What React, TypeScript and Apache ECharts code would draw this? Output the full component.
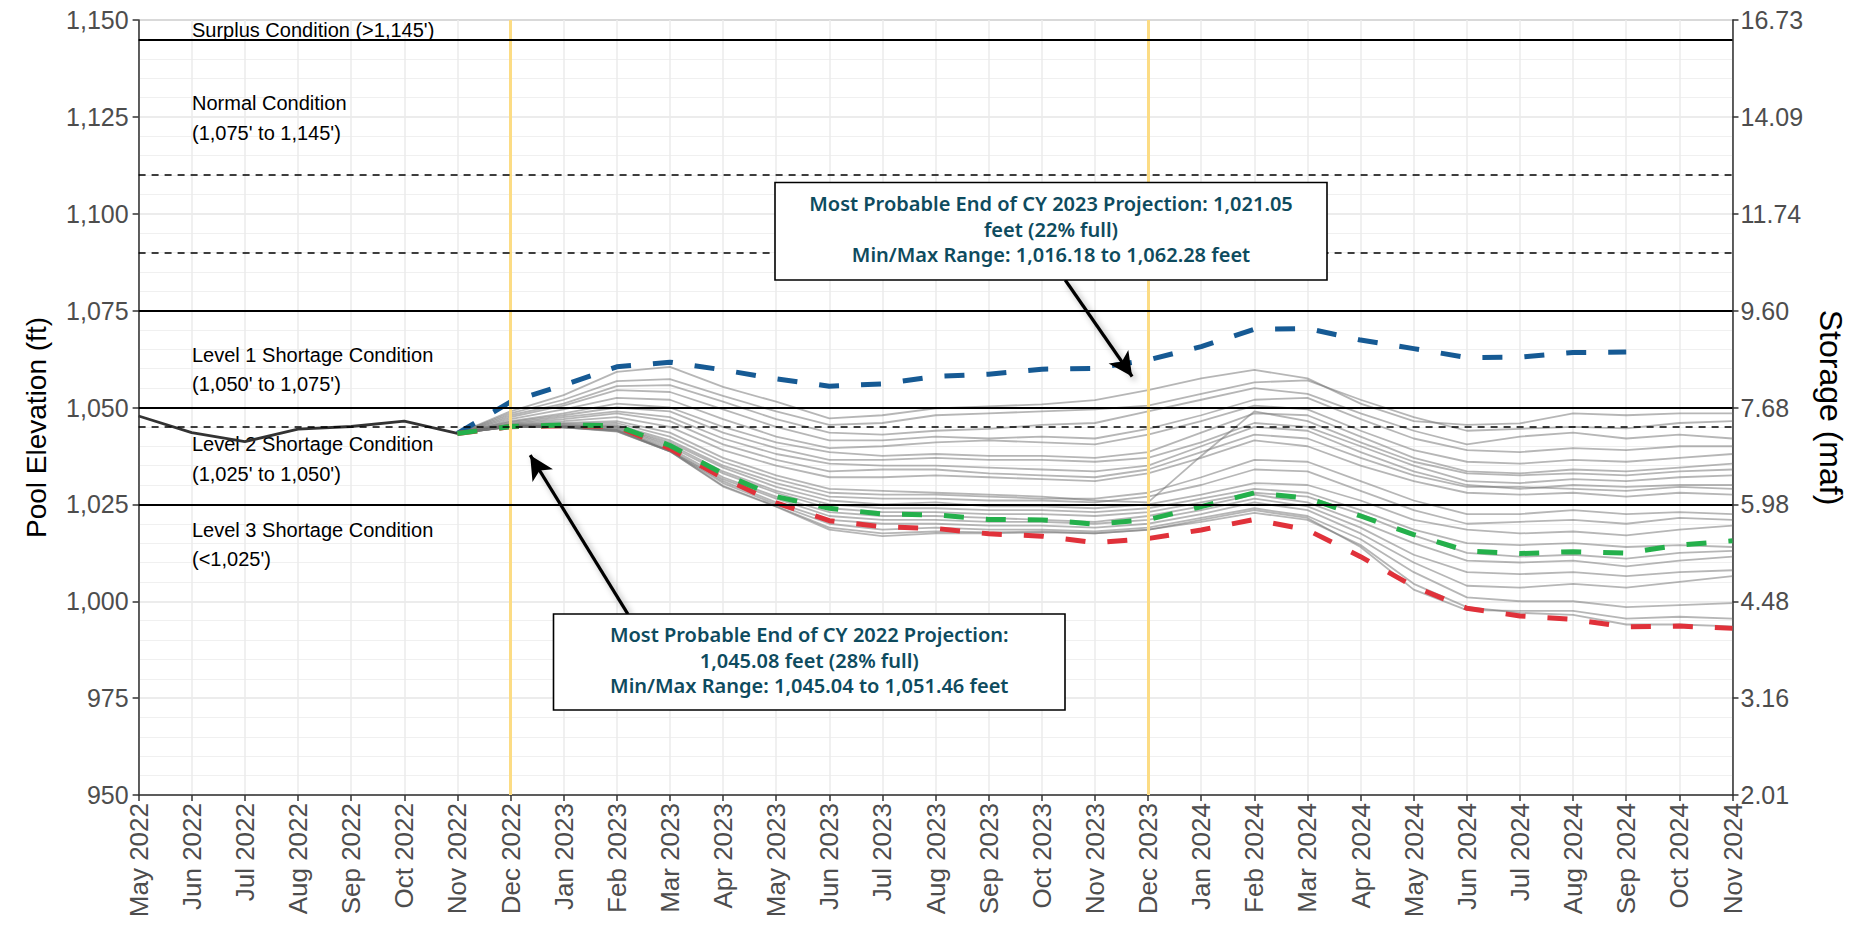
import React, { useEffect, useRef } from 'react';
import * as echarts from 'echarts';

const monthLabels = [
  'May 2022', 'Jun 2022', 'Jul 2022', 'Aug 2022', 'Sep 2022', 'Oct 2022', 'Nov 2022', 'Dec 2022',
  'Jan 2023', 'Feb 2023', 'Mar 2023', 'Apr 2023', 'May 2023', 'Jun 2023', 'Jul 2023', 'Aug 2023',
  'Sep 2023', 'Oct 2023', 'Nov 2023', 'Dec 2023', 'Jan 2024', 'Feb 2024', 'Mar 2024', 'Apr 2024',
  'May 2024', 'Jun 2024', 'Jul 2024', 'Aug 2024', 'Sep 2024', 'Oct 2024', 'Nov 2024',
];

// Historical elevations, May 2022 .. Nov 2022
const historical = [1047.8, 1043.5, 1041.2, 1044.4, 1045.1, 1046.5, 1043.3];

// Projections start at Nov 2022 (month index 6)
const projectionStart = 6;
const maxProbable = [1043.3, 1051.46, 1055.8, 1060.5, 1061.7, 1059.7, 1057.4, 1055.5, 1056.1, 1058.0,
  1058.6, 1059.9, 1060.1, 1062.28, 1065.7, 1070.2, 1070.4, 1067.4, 1065.2, 1062.9, 1063.0, 1064.2, 1064.3];
const mostProbable = [1043.3, 1045.08, 1045.5, 1045.3, 1040.2, 1032.9, 1027.0, 1024.0, 1022.5, 1022.3,
  1021.1, 1021.0, 1019.9, 1021.05, 1024.4, 1028.0, 1026.6, 1022.0, 1017.2, 1013.0, 1012.3, 1012.8, 1012.4, 1014.5, 1015.6];
const minProbable = [1043.3, 1045.04, 1045.3, 1045.1, 1039.4, 1031.8, 1025.4, 1020.8, 1019.2, 1018.8,
  1017.4, 1016.8, 1015.1, 1016.18, 1018.4, 1021.1, 1018.4, 1011.5, 1003.8, 998.2, 996.2, 995.3, 993.4, 993.6, 993.0];

// Ensemble traces, Nov 2022 .. Nov 2024
const traceA = [1043.3, 1049.0, 1053.2, 1059.2, 1060.5, 1055.3, 1051.5, 1047.2, 1048.0, 1049.8, 1050.3, 1050.8, 1051.9, 1054.5, 1057.5, 1059.7, 1057.5, 1051.0, 1046.5, 1045.5, 1045.9, 1048.5, 1048.0, 1048.5, 1048.5];
const traceB = [1043.3, 1048.5, 1052.0, 1056.8, 1057.3, 1053.0, 1049.0, 1045.5, 1046.0, 1048.0, 1048.5, 1049.0, 1049.5, 1050.5, 1053.5, 1056.5, 1057.0, 1052.0, 1047.5, 1044.0, 1044.5, 1045.0, 1044.6, 1046.0, 1046.5];
const traceC = [1043.3, 1048.0, 1051.0, 1055.5, 1055.8, 1051.5, 1047.0, 1043.5, 1043.0, 1044.0, 1044.5, 1045.5, 1046.0, 1049.0, 1052.0, 1055.0, 1053.5, 1048.5, 1044.0, 1040.5, 1042.5, 1043.5, 1042.0, 1043.0, 1042.0];
const traceD = [1043.3, 1047.5, 1050.5, 1054.5, 1054.0, 1049.5, 1045.0, 1041.5, 1041.5, 1042.5, 1042.0, 1042.5, 1042.0, 1044.5, 1048.0, 1052.0, 1052.5, 1047.0, 1042.0, 1039.0, 1038.5, 1039.5, 1039.0, 1040.0, 1040.0];
const traceE = [1043.3, 1047.0, 1049.5, 1052.5, 1052.0, 1047.0, 1042.5, 1039.5, 1040.0, 1041.0, 1041.5, 1041.0, 1040.5, 1043.0, 1046.5, 1050.5, 1049.5, 1044.0, 1039.0, 1036.0, 1035.5, 1036.5, 1036.0, 1037.0, 1038.0];
const traceF = [1043.3, 1046.5, 1048.5, 1051.0, 1050.0, 1045.0, 1041.0, 1038.5, 1037.5, 1038.0, 1037.5, 1037.5, 1037.0, 1038.5, 1043.5, 1048.5, 1048.0, 1042.5, 1037.0, 1033.5, 1033.0, 1034.0, 1033.5, 1034.5, 1035.5];
const traceG = [1043.3, 1046.3, 1048.0, 1050.0, 1049.0, 1043.5, 1039.5, 1036.5, 1036.5, 1037.0, 1036.5, 1036.5, 1036.0, 1037.0, 1041.0, 1046.0, 1045.0, 1040.0, 1035.0, 1031.0, 1030.5, 1031.5, 1031.0, 1032.0, 1032.5];
const traceH = [1043.3, 1046.0, 1047.5, 1049.0, 1047.5, 1042.0, 1038.0, 1035.5, 1035.0, 1035.0, 1034.5, 1034.0, 1033.5, 1035.0, 1040.0, 1045.0, 1044.0, 1038.5, 1033.5, 1030.0, 1029.0, 1030.0, 1029.5, 1030.0, 1030.0];
const traceI = [1043.3, 1045.8, 1047.0, 1048.5, 1046.5, 1040.5, 1036.5, 1033.5, 1034.0, 1034.0, 1033.0, 1032.5, 1032.0, 1034.0, 1038.5, 1043.0, 1042.0, 1037.0, 1032.5, 1029.5, 1029.5, 1029.0, 1028.5, 1029.5, 1029.0];
const traceJ = [1043.3, 1045.6, 1046.5, 1047.5, 1045.0, 1039.0, 1035.0, 1032.0, 1032.0, 1032.5, 1032.0, 1031.5, 1031.0, 1033.0, 1037.0, 1041.5, 1040.0, 1035.0, 1031.0, 1028.0, 1027.5, 1028.0, 1027.0, 1028.0, 1027.5];
const traceK = [1043.3, 1045.5, 1046.0, 1046.5, 1043.5, 1037.0, 1032.5, 1029.0, 1028.5, 1028.0, 1027.5, 1027.0, 1026.0, 1025.5, 1037.5, 1049.0, 1046.5, 1041.0, 1036.0, 1033.0, 1032.5, 1033.0, 1032.5, 1033.5, 1034.0];
const traceL = [1043.3, 1045.4, 1045.8, 1046.0, 1042.5, 1036.0, 1031.5, 1028.0, 1027.5, 1027.5, 1027.0, 1026.5, 1026.5, 1028.0, 1032.0, 1036.5, 1036.0, 1031.0, 1026.0, 1022.5, 1022.5, 1023.5, 1022.5, 1023.0, 1022.5];
const traceM = [1043.3, 1045.3, 1045.5, 1045.5, 1041.5, 1035.0, 1030.5, 1027.0, 1026.5, 1026.5, 1026.0, 1026.0, 1025.5, 1027.0, 1030.0, 1034.0, 1033.5, 1028.5, 1023.5, 1020.0, 1020.5, 1021.0, 1020.0, 1021.5, 1021.0];
const traceN = [1043.3, 1045.2, 1045.3, 1045.2, 1041.0, 1034.5, 1029.5, 1026.0, 1025.0, 1025.5, 1024.5, 1024.5, 1024.0, 1025.0, 1027.5, 1030.5, 1030.0, 1026.0, 1021.0, 1018.5, 1017.5, 1018.0, 1017.0, 1018.5, 1019.5];
const traceO = [1043.3, 1045.2, 1045.2, 1045.0, 1040.5, 1033.5, 1028.5, 1025.0, 1024.0, 1024.0, 1023.5, 1023.5, 1023.0, 1024.0, 1026.5, 1029.0, 1028.0, 1023.5, 1018.5, 1015.0, 1014.5, 1015.0, 1014.0, 1014.5, 1014.0];
const traceP = [1043.3, 1045.1, 1045.1, 1044.8, 1040.0, 1033.0, 1028.0, 1024.0, 1023.0, 1023.0, 1022.5, 1022.5, 1022.0, 1023.0, 1025.5, 1028.0, 1027.0, 1022.5, 1017.0, 1012.5, 1011.5, 1012.0, 1011.0, 1012.5, 1013.0];
const traceQ = [1043.3, 1045.1, 1045.0, 1044.5, 1039.5, 1032.0, 1027.0, 1023.0, 1022.0, 1022.0, 1021.5, 1021.0, 1020.5, 1022.0, 1024.5, 1027.5, 1025.5, 1020.5, 1015.0, 1010.5, 1010.0, 1010.5, 1009.0, 1010.5, 1011.5];
const traceR = [1043.3, 1045.1, 1045.0, 1044.3, 1039.0, 1031.5, 1026.5, 1022.0, 1021.0, 1021.0, 1020.5, 1020.5, 1020.0, 1021.0, 1023.5, 1026.5, 1024.5, 1019.0, 1012.0, 1007.5, 1007.0, 1007.5, 1006.5, 1007.5, 1008.0];
const traceS = [1043.3, 1045.05, 1044.9, 1044.2, 1038.8, 1031.0, 1025.5, 1021.0, 1020.0, 1020.0, 1019.5, 1019.5, 1019.0, 1020.0, 1022.5, 1025.5, 1023.5, 1017.5, 1010.0, 1004.0, 1003.5, 1004.5, 1003.5, 1005.0, 1006.5];
const traceT = [1043.3, 1045.05, 1044.9, 1044.0, 1038.7, 1030.5, 1025.0, 1020.0, 1018.5, 1019.0, 1018.5, 1018.5, 1018.0, 1019.0, 1021.5, 1024.0, 1022.0, 1016.0, 1007.5, 1001.0, 1000.0, 1000.0, 998.5, 999.0, 999.5];
const traceU = [1043.3, 1045.04, 1044.9, 1043.9, 1038.7, 1029.8, 1024.5, 1019.0, 1017.5, 1018.0, 1017.8, 1018.0, 1017.5, 1018.5, 1020.5, 1022.8, 1021.0, 1014.5, 1004.5, 998.5, 997.0, 996.5, 994.0, 994.0, 993.5];
const traceV = [1043.3, 1045.04, 1044.9, 1043.8, 1038.7, 1029.6, 1024.4, 1018.5, 1016.8, 1017.5, 1017.5, 1017.8, 1017.5, 1018.4, 1021.0, 1023.5, 1021.5, 1014.0, 1003.0, 997.7, 997.5, 997.5, 995.5, 996.0, 995.5];
const traces = [traceA, traceB, traceC, traceD, traceE, traceF, traceG, traceH, traceI, traceJ, traceK,
  traceL, traceM, traceN, traceO, traceP, traceQ, traceR, traceS, traceT, traceU, traceV];

const storageLabels = ['2.01', '3.16', '4.48', '5.98', '7.68', '9.60', '11.74', '14.09', '16.73'];
const solidLevels = [1145, 1075, 1050, 1025];
const dashedLevels = [1110, 1090, 1045];
const yearEndMonths = ['Dec 2022', 'Dec 2023'];

const conditionLabels = [
  "Surplus Condition (>1,145')",
  'Normal Condition', "(1,075' to 1,145')",
  'Level 1 Shortage Condition', "(1,050' to 1,075')",
  'Level 2 Shortage Condition', "(1,025' to 1,050')",
  'Level 3 Shortage Condition', "(<1,025')",
];
const conditionLabelY = [30, 103, 133, 355, 384, 444, 474, 530, 559];

const box2023Lines = [
  'Most Probable End of CY 2023 Projection: 1,021.05',
  'feet (22% full)',
  'Min/Max Range: 1,016.18 to 1,062.28 feet',
];
const box2022Lines = [
  'Most Probable End of CY 2022 Projection:',
  '1,045.08 feet (28% full)',
  'Min/Max Range: 1,045.04 to 1,051.46 feet',
];
// arrow endpoints in (month index, elevation)
const arrow2023 = { from: [17.44, 1082.9], to: [18.7, 1058.0] };
const arrow2022 = { from: [9.21, 996.7], to: [7.37, 1037.7] };

const FONT = '"Liberation Sans", Arial, sans-serif';

function buildOption() {
  const xOf = (i: number) => i + projectionStart;
  const lower = traces[0].map((_, i) => Math.min(...traces.map((t) => t[i])));
  const upper = traces[0].map((_, i) => Math.max(...traces.map((t) => t[i])));

  const series: any[] = [];
  series.push({
    type: 'line', name: 'bandBase', stack: 'band', symbol: 'none', silent: true,
    lineStyle: { opacity: 0 }, data: lower.map((v, i) => [xOf(i), v]),
  });
  series.push({
    type: 'line', name: 'band', stack: 'band', symbol: 'none', silent: true,
    lineStyle: { opacity: 0 }, areaStyle: { color: '#F0F0F0', opacity: 1 },
    data: upper.map((v, i) => [xOf(i), v - lower[i]]),
  });
  traces.forEach((t, k) => {
    series.push({
      type: 'line', name: 'trace' + k, symbol: 'none', silent: true,
      lineStyle: { color: 'rgba(115,115,115,0.52)', width: 1.8 },
      data: t.map((v, i) => [xOf(i), v]),
    });
  });
  series.push({
    type: 'line', name: 'yearEnd', symbol: 'none', silent: true, lineStyle: { opacity: 0 },
    data: [[projectionStart, historical[historical.length - 1]]],
    markLine: {
      silent: true, symbol: 'none', label: { show: false },
      lineStyle: { color: '#FCDC84', width: 3, type: 'solid' },
      data: yearEndMonths.map((m) => ({ xAxis: monthLabels.indexOf(m) })),
    },
  });
  series.push({
    type: 'line', name: 'levels', symbol: 'none', silent: true, lineStyle: { opacity: 0 },
    data: [[projectionStart, historical[historical.length - 1]]],
    markLine: {
      silent: true, symbol: 'none', label: { show: false },
      data: [
        ...solidLevels.map((v) => ({ yAxis: v, lineStyle: { color: '#000', width: 1.8, type: 'solid' } })),
        ...dashedLevels.map((v) => ({ yAxis: v, lineStyle: { color: '#000', width: 1.6, type: [7, 6] } })),
      ],
    },
  });
  series.push({
    type: 'line', name: 'historical', symbol: 'none', silent: true,
    lineStyle: { color: '#333333', width: 2.8 },
    data: historical.map((v, i) => [i, v]),
  });
  const dashed = (name: string, arr: number[], color: string) => ({
    type: 'line', name, symbol: 'none', silent: true,
    lineStyle: { color, width: 5, type: [20, 22] },
    data: arr.map((v, i) => [xOf(i), v]),
  });
  series.push(dashed('max', maxProbable, '#165A94'));
  series.push(dashed('min', minProbable, '#E0313A'));
  series.push(dashed('most', mostProbable, '#24B04B'));
  series.push({
    type: 'line', name: 'arrows', symbol: 'none', silent: true, lineStyle: { opacity: 0 },
    data: [[projectionStart, historical[historical.length - 1]]],
    markLine: {
      silent: true, symbol: ['none', 'arrow'], symbolSize: [18, 24], label: { show: false },
      lineStyle: {
        color: '#000', width: 3.2, type: 'solid',
        shadowBlur: 6, shadowColor: 'rgba(0,0,0,0.35)', shadowOffsetX: 3, shadowOffsetY: 3,
      },
      data: [arrow2023, arrow2022].map((a) => [{ coord: a.from }, { coord: a.to }]),
    },
  });

  const graphic: any[] = [];
  conditionLabels.forEach((t, i) => {
    graphic.push({
      type: 'text', z: 1, silent: true,
      style: { text: t, x: 192, y: conditionLabelY[i], verticalAlign: 'middle', font: '20px ' + FONT, fill: '#000' },
    });
  });
  const box = (x: number, y: number, w: number, h: number, lines: string[]) => [
    {
      type: 'rect', z: 100, silent: true, shape: { x, y, width: w, height: h },
      style: { fill: '#FFFFFF', stroke: '#000', lineWidth: 1.6 },
    },
    {
      type: 'text', z: 101, silent: true,
      style: {
        text: lines.join('\n'), x: x + w / 2, y: y + h / 2 - 2, align: 'center', verticalAlign: 'middle',
        lineHeight: 25.5, font: '600 20px "Noto Sans", sans-serif', fill: '#0E4B5E',
      },
    },
  ];
  graphic.push(...box(775, 182.5, 552, 97.5, box2023Lines));
  graphic.push(...box(553.5, 614, 511.5, 96, box2022Lines));

  return {
    animation: false,
    backgroundColor: '#FFFFFF',
    grid: { left: 138.6, right: 125.5, top: 20, bottom: 142, show: true, borderColor: '#666', borderWidth: 1, backgroundColor: 'transparent' },
    xAxis: {
      type: 'value', min: 0, max: 30, interval: 1,
      axisLine: { show: true, onZero: false, lineStyle: { color: '#333', width: 1.5 } },
      axisTick: { show: true, length: 6, lineStyle: { color: '#333', width: 1.5 } },
      axisLabel: {
        rotate: 90, fontSize: 26, color: '#4D4D4D', fontFamily: FONT, margin: 8,
        showMinLabel: true, showMaxLabel: true,
        formatter: (v: number) => monthLabels[Math.round(v)] ?? '',
      },
      splitLine: { show: true, lineStyle: { color: '#EBEBEB', width: 1.5 } },
    },
    yAxis: [
      {
        type: 'value', min: 950, max: 1150, interval: 25, position: 'left',
        name: 'Pool Elevation (ft)', nameLocation: 'middle', nameGap: 88,
        nameTextStyle: { fontSize: 28, color: '#000', fontFamily: FONT, padding: [0, 40, 0, 0] },
        axisLine: { show: true, lineStyle: { color: '#333', width: 1.5 } },
        axisTick: { show: true, length: 6, lineStyle: { color: '#333', width: 1.5 } },
        axisLabel: { fontSize: 25, color: '#4D4D4D', fontFamily: FONT, margin: 10, formatter: (v: number) => v.toLocaleString('en-US') },
        splitLine: { show: true, lineStyle: { color: '#E6E6E6', width: 1.5 } },
        minorTick: { show: false, splitNumber: 5 },
        minorSplitLine: { show: true, lineStyle: { color: '#F0F0F0', width: 1 } },
      },
      {
        type: 'value', min: 950, max: 1150, interval: 25, position: 'right',
        name: 'Storage (maf)', nameLocation: 'middle', nameGap: 82, nameRotate: -90,
        nameTextStyle: { fontSize: 32, color: '#000', fontFamily: FONT },
        axisLine: { show: true, lineStyle: { color: '#333', width: 1.5 } },
        axisTick: { show: true, length: 6, lineStyle: { color: '#333', width: 1.5 } },
        axisLabel: {
          fontSize: 25, color: '#4D4D4D', fontFamily: FONT, margin: 8,
          formatter: (v: number) => storageLabels[Math.round((v - 950) / 25)] ?? '',
        },
        splitLine: { show: false },
      },
    ],
    series,
    graphic,
  };
}

export default function App() {
  const ref = useRef<HTMLDivElement>(null);
  useEffect(() => {
    document.body.style.margin = '0';
    const chart = echarts.init(ref.current!, null, { renderer: 'svg' });
    chart.setOption(buildOption() as any);
    return () => chart.dispose();
  }, []);
  return <div ref={ref} style={{ width: 1858, height: 937, overflow: 'hidden' }} />;
}
